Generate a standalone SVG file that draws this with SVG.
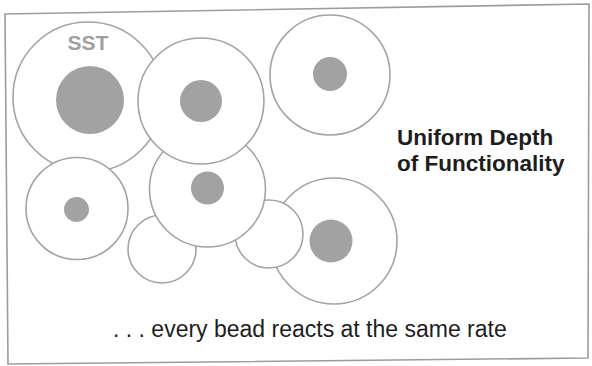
<svg xmlns="http://www.w3.org/2000/svg" width="592" height="366" viewBox="0 0 592 366">
<style>
.bead{fill:#fff;stroke:#a3a3a3;stroke-width:1.6}
.core{fill:#a2a2a2;stroke:none}
.t{font-family:"Liberation Sans",Arial,sans-serif}
</style>
<rect width="592" height="366" fill="#fff"/>
<polygon points="5,14 589,4 588,358 8,364" fill="none" stroke="#9c9c9c" stroke-width="1.6"/>
<g id="bead-sst">
<circle class="bead" cx="88" cy="97" r="75"/>
<circle class="core" cx="90" cy="100" r="34"/>
<text class="t" x="88" y="50" font-size="21" font-weight="bold" fill="#a0a0a0" text-anchor="middle">SST</text>
</g>
<g id="bead-4">
<circle class="bead" cx="77" cy="208.5" r="51"/>
<circle class="core" cx="76.5" cy="209.5" r="12.5"/>
</g>
<g id="bead-8">
<circle class="bead" cx="334" cy="241" r="63"/>
<circle class="core" cx="331" cy="241" r="21.5"/>
</g>
<g id="bead-6">
<circle class="bead" cx="162" cy="249" r="34"/>
</g>
<g id="bead-7">
<circle class="bead" cx="269" cy="234" r="34"/>
</g>
<g id="bead-5">
<circle class="bead" cx="207.5" cy="189" r="58"/>
<circle class="core" cx="207.5" cy="188" r="16.5"/>
</g>
<g id="bead-2">
<circle class="bead" cx="201" cy="101" r="63"/>
<circle class="core" cx="201" cy="101" r="21"/>
</g>
<g id="bead-3">
<circle class="bead" cx="330" cy="75" r="60"/>
<circle class="core" cx="330" cy="74" r="17"/>
</g>
<g id="connectors"></g>
<g id="labels">
<text class="t" x="397" y="145" font-size="22.5" font-weight="bold" fill="#1e1e1e">Uniform Depth</text>
<text class="t" x="397" y="171" font-size="22.5" font-weight="bold" fill="#1e1e1e">of Functionality</text>
<text class="t" x="113" y="337" font-size="23" fill="#1e1e1e">. . . every bead reacts at the same rate</text>
</g>
</svg>
